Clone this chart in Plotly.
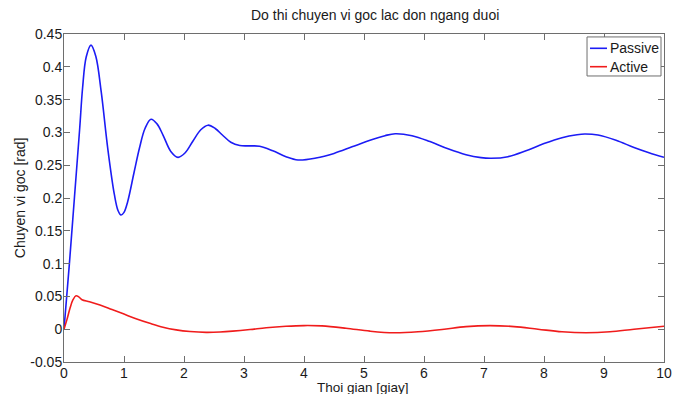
import plotly.graph_objects as go

# Time samples [s] and angular displacement [rad]
t_passive = [0, 0.09, 0.175, 0.26, 0.31, 0.37, 0.45, 0.53, 0.62, 0.73, 0.84, 0.90, 0.95,
             1.0, 1.06, 1.17, 1.26, 1.35, 1.45, 1.55, 1.65, 1.78, 1.90, 2.02, 2.15, 2.28,
             2.40, 2.52, 2.64, 2.78, 2.93, 3.1, 3.26, 3.48, 3.7, 3.9, 4.2, 4.5, 4.8,
             5.1, 5.35, 5.52, 5.8, 6.1, 6.4, 6.7, 6.95, 7.12, 7.4, 7.7, 8.0, 8.3,
             8.55, 8.68, 8.9, 9.2, 9.5, 9.75, 10.0]
y_passive = [0, 0.10, 0.202, 0.304, 0.368, 0.415, 0.433, 0.416, 0.362, 0.275, 0.205, 0.181, 0.174,
             0.178, 0.194, 0.240, 0.277, 0.306, 0.320, 0.313, 0.296, 0.271, 0.262, 0.269, 0.287, 0.304,
             0.311, 0.306, 0.296, 0.285, 0.280, 0.2795, 0.279, 0.272, 0.263, 0.258, 0.261, 0.268, 0.278,
             0.288, 0.295, 0.298, 0.295, 0.286, 0.275, 0.266, 0.2615, 0.2605, 0.263, 0.272, 0.283, 0.292,
             0.2965, 0.2976, 0.296, 0.288, 0.277, 0.269, 0.262]

t_active = [0, 0.05, 0.1, 0.15, 0.2, 0.25, 0.3, 0.425, 0.6, 0.8, 1.0, 1.2, 1.43, 1.65,
            1.87, 2.1, 2.37, 2.6, 2.81, 3.1, 3.37, 3.7, 4.0, 4.3, 4.7, 5.1, 5.5, 5.9,
            6.3, 6.7, 7.1, 7.5, 7.9, 8.3, 8.7, 9.1, 9.5, 10.0]
y_active = [0, 0.015, 0.032, 0.045, 0.051, 0.049, 0.045, 0.042, 0.037, 0.030, 0.023, 0.016,
            0.009, 0.003, -0.001, -0.0035, -0.0048, -0.0043, -0.003, -0.0005, 0.0023, 0.0045,
            0.0055, 0.005, 0.0015, -0.003, -0.0055, -0.004, -0.0005, 0.004, 0.0055, 0.004,
            0.0, -0.004, -0.0055, -0.004, 0.0, 0.0045]

x_ticks = list(range(0, 11))
x_tick_text = [str(v) for v in x_ticks]
y_ticks = [-0.05, 0, 0.05, 0.1, 0.15, 0.2, 0.25, 0.3, 0.35, 0.4, 0.45]
y_tick_text = ["-0.05", "0", "0.05", "0.1", "0.15", "0.2", "0.25", "0.3", "0.35", "0.4", "0.45"]

series_names = ["Passive", "Active"]
series_colors = ["#1c1cf5", "#f01c1c"]

FONT = "Liberation Sans, Arial, sans-serif"
TXT = "#1a1a1a"
AX = "#6e6e6e"

fig = go.Figure()
fig.add_trace(go.Scatter(x=t_passive, y=y_passive, mode="lines", name=series_names[0],
                         line=dict(color=series_colors[0], width=1.6, shape="spline", smoothing=1.0)))
fig.add_trace(go.Scatter(x=t_active, y=y_active, mode="lines", name=series_names[1],
                         line=dict(color=series_colors[1], width=1.6, shape="spline", smoothing=1.0)))

axis_common = dict(showline=True, linecolor=AX, linewidth=1, mirror="ticks",
                   ticks="inside", ticklen=6, tickcolor=AX, tickwidth=1,
                   showgrid=False, zeroline=False,
                   tickfont=dict(family=FONT, size=14, color=TXT))

fig.update_xaxes(range=[0, 10], tickvals=x_ticks, ticktext=x_tick_text,
                 ticklabelstandoff=-2, **axis_common)
fig.update_yaxes(range=[-0.05, 0.45], tickvals=y_ticks, ticktext=y_tick_text,
                 ticklabelstandoff=-2, **axis_common)

annotations = [
    dict(text="Do thi chuyen vi goc lac don ngang duoi", x=0.518, y=1.058,
         xref="paper", yref="paper", xanchor="center", yanchor="middle", showarrow=False,
         font=dict(family=FONT, size=14, color=TXT)),
    dict(text="Thoi gian [giay]", x=0.498, y=-0.0765, xref="paper", yref="paper",
         xanchor="center", yanchor="middle", showarrow=False,
         font=dict(family=FONT, size=13.5, color=TXT)),
    dict(text="Chuyen vi goc [rad]", x=-0.073, y=0.5, xref="paper", yref="paper",
         xanchor="center", yanchor="middle", textangle=-90, showarrow=False,
         font=dict(family=FONT, size=14, color=TXT)),
]

# Legend box drawn by hand (short line samples)
leg_x0, leg_x1, leg_y0, leg_y1 = 0.8717, 0.995, 0.872, 0.991
leg_rows = [0.9564, 0.9003]
shapes = [dict(type="rect", xref="paper", yref="paper", x0=leg_x0, x1=leg_x1, y0=leg_y0, y1=leg_y1,
               line=dict(color=AX, width=1), fillcolor="white", layer="above")]
for name, color, yy in zip(series_names, series_colors, leg_rows):
    shapes.append(dict(type="line", xref="paper", yref="paper", x0=0.8767, x1=0.905, y0=yy, y1=yy,
                       line=dict(color=color, width=1.6), layer="above"))
    annotations.append(dict(text=name, x=0.9067, y=yy, xref="paper", yref="paper",
                            xanchor="left", yanchor="middle", showarrow=False,
                            font=dict(family=FONT, size=14, color=TXT)))

fig.update_layout(width=683, height=394, margin=dict(l=64, r=19, t=34, b=32),
                  paper_bgcolor="white", plot_bgcolor="white", showlegend=False,
                  annotations=annotations, shapes=shapes)

fig.write_html("out.html")
